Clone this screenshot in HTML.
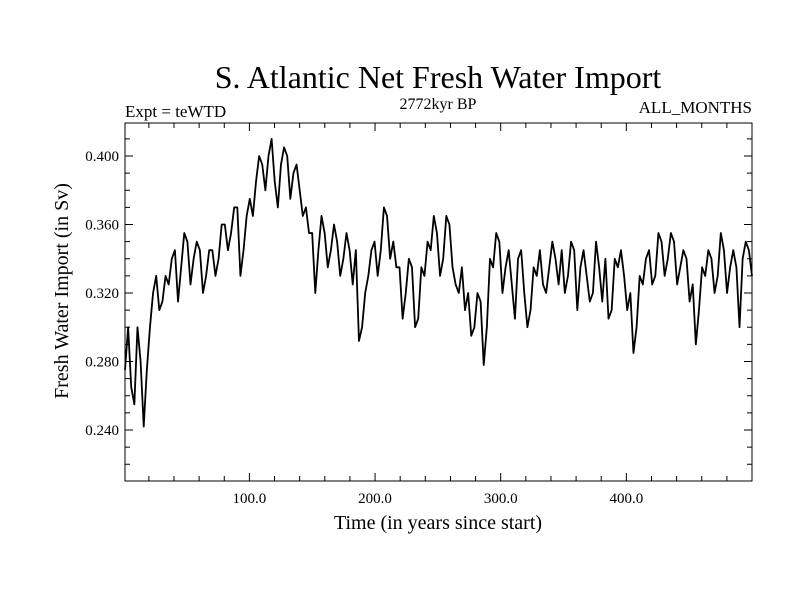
<!DOCTYPE html>
<html><head><meta charset="utf-8">
<style>
html,body{margin:0;padding:0;background:#fff;}
svg text{font-family:"Liberation Serif",serif;fill:#000;}
</style></head>
<body>
<svg id="chart" width="800" height="600" viewBox="0 0 800 600" xmlns="http://www.w3.org/2000/svg">
<rect width="800" height="600" fill="#fff"/>
<text x="438" y="88" font-size="32" text-anchor="middle">S. Atlantic Net Fresh Water Import</text>
<text x="125" y="117" font-size="17">Expt = teWTD</text>
<text x="438" y="109" font-size="16" text-anchor="middle">2772kyr BP</text>
<text x="752" y="113" font-size="17" text-anchor="end">ALL_MONTHS</text>
<text transform="translate(68,291) rotate(-90)" font-size="20" text-anchor="middle">Fresh Water Import (in Sv)</text>
<text x="438" y="529" font-size="20" text-anchor="middle">Time (in years since start)</text>
<g id="ticks"></g>
<g id="labels"></g>
<path id="series" fill="none" stroke="#000" stroke-width="1.8" stroke-linejoin="round"/>
<rect x="125" y="123" width="627" height="358" fill="none" stroke="#000" stroke-width="1"/>
</svg>
<script>
const xTicks = [100, 200, 300, 400];
const xTickLabels = ["100.0", "200.0", "300.0", "400.0"];
const yTicks = [0.24, 0.28, 0.32, 0.36, 0.40];
const yTickLabels = ["0.240", "0.280", "0.320", "0.360", "0.400"];
const importValues = [.275,.300,.265,.255,.300,.280,.242,.275,.300,.320,.330,.310,.315,.330,.325,.340,.345,.315,.335,.355,.350,.325,.340,.350,.345,.320,.330,.345,.345,.330,.340,.360,.360,.345,.355,.370,.370,.330,.345,.365,.375,.365,.385,.400,.395,.380,.400,.410,.385,.370,.395,.405,.400,.375,.390,.395,.380,.365,.370,.355,.355,.320,.345,.365,.355,.335,.345,.360,.350,.330,.340,.355,.345,.325,.345,.292,.300,.320,.330,.345,.350,.330,.345,.370,.365,.340,.350,.335,.335,.305,.320,.340,.335,.300,.305,.335,.330,.350,.345,.365,.355,.330,.340,.365,.360,.335,.325,.320,.335,.310,.320,.295,.300,.320,.315,.278,.300,.340,.335,.355,.350,.320,.335,.345,.325,.305,.340,.345,.320,.300,.310,.335,.330,.345,.325,.320,.335,.350,.340,.325,.345,.320,.330,.350,.345,.310,.335,.345,.330,.315,.320,.350,.335,.315,.340,.305,.310,.340,.335,.345,.330,.310,.320,.285,.300,.330,.325,.340,.345,.325,.330,.355,.350,.330,.340,.355,.350,.325,.335,.345,.340,.315,.325,.290,.310,.335,.330,.345,.340,.320,.330,.355,.345,.320,.335,.345,.335,.300,.340,.350,.345,.330];
const xStart = 1, xEnd = 500;

const L=125,R=752,T=123,B=481;
function xs(v){return L+(v-xStart)*(R-L)/(xEnd-xStart);}
function ys(v){return 430-(v-0.24)*1712.5;}
const NS="http://www.w3.org/2000/svg";
const tg=document.getElementById('ticks'), lg=document.getElementById('labels');
function line(x1,y1,x2,y2){const l=document.createElementNS(NS,'line');l.setAttribute('x1',x1);l.setAttribute('y1',y1);l.setAttribute('x2',x2);l.setAttribute('y2',y2);l.setAttribute('stroke','#000');l.setAttribute('stroke-width','1');


tg.appendChild(l);}
for(let v=20;v<xEnd;v+=20){const x=xs(v);const major=v%100===0;const len=major?8:5;line(x,B,x,B-len);line(x,T,x,T+len);}
for(let k=22;k<=43;k++){const v=k/100;const y=ys(v);if(y<T||y>B)continue;const major=(k%4===0);const len=major?8:5;line(L,y,L+len,y);line(R,y,R-len,y);}
xTicks.forEach((v,i)=>{const t=document.createElementNS(NS,'text');t.setAttribute('x',xs(v));t.setAttribute('y',B+22);t.setAttribute('font-size','15');t.setAttribute('text-anchor','middle');t.textContent=xTickLabels[i];


lg.appendChild(t);});
yTicks.forEach((v,i)=>{const t=document.createElementNS(NS,'text');t.setAttribute('x',L-6);t.setAttribute('y',ys(v)+5);t.setAttribute('font-size','15');t.setAttribute('text-anchor','end');t.textContent=yTickLabels[i];


lg.appendChild(t);});
const n=importValues.length;
let d='';
importValues.forEach((v,i)=>{const yr=xStart+i*(xEnd-xStart)/(n-1);d+=(i?'L':'M')+xs(yr).toFixed(2)+','+ys(v).toFixed(2);});
document.getElementById('series').setAttribute('d',d);
</script>
</body></html>
